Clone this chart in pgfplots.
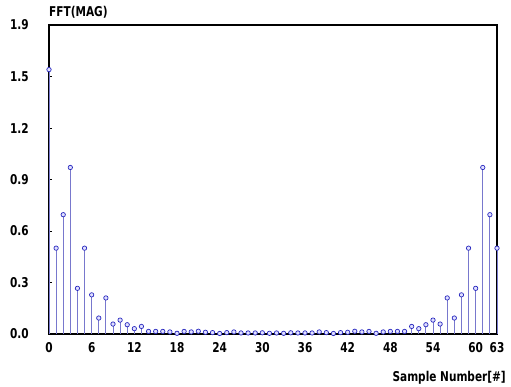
\documentclass[border=0pt]{standalone}
\usepackage{pgfplots}
\pgfplotsset{compat=1.18}
\usepackage{fontspec}
\setmainfont{DejaVu Sans}
\newfontfamily\lblfont[FakeStretch=0.78]{DejaVu Sans Bold}
\newcommand\lbl{\lblfont\fontsize{13.5}{15}\selectfont}
\definecolor{stem}{RGB}{120,120,205}
\definecolor{mk}{RGB}{40,40,190}
\pgfplotstableread{
x y
0 1.54
1 0.50
2 0.695
3 0.97
4 0.266
5 0.50
6 0.228
7 0.093
8 0.21
9 0.058
10 0.081
11 0.054
12 0.031
13 0.044
14 0.015
15 0.015
16 0.015
17 0.012
18 0.004
19 0.015
20 0.012
21 0.016
22 0.010
23 0.008
24 0.003
25 0.008
26 0.012
27 0.006
28 0.006
29 0.006
30 0.007
31 0.004
32 0.006
33 0.004
34 0.007
35 0.006
36 0.006
37 0.006
38 0.012
39 0.008
40 0.003
41 0.008
42 0.010
43 0.016
44 0.012
45 0.015
46 0.004
47 0.012
48 0.015
49 0.015
50 0.015
51 0.044
52 0.031
53 0.054
54 0.081
55 0.058
56 0.21
57 0.093
58 0.228
59 0.50
60 0.266
61 0.97
62 0.695
63 0.50
}\fftdata
\begin{document}
\begin{tikzpicture}
\begin{axis}[
  name=ax,
  scale only axis,
  width=448pt, height=309pt,
  xmin=0, xmax=63, ymin=0, ymax=1.8,
  xtick={0,6,12,18,24,30,36,42,48,54,60,63},
  ytick={0,0.3,0.6,0.9,1.2,1.5,1.8},
  yticklabels={0.0,0.3,0.6,0.9,1.2,1.5,1.9},
  xtick pos=bottom, ytick pos=left,
  tick align=inside,
  major tick length=3pt,
  tick style={black, line width=0.8pt},
  axis line style={black, line width=1.5pt},
  tick label style={font=\lbl, inner sep=0pt},
  /pgf/number format/assume math mode=true,
  xticklabel style={anchor=base, yshift=-19pt},
  yticklabel style={anchor=east, xshift=-20pt},
  clip=false,
]
\addplot[ycomb, color=stem, line width=0.9pt, mark=*, mark size=2.2pt,
  mark options={draw=mk, fill=blue!12, line width=0.7pt}] table[x=x,y=y] {\fftdata};
\end{axis}
\node[anchor=base west, font=\lbl, inner sep=0pt] at ([yshift=8pt]ax.north west) {FFT(MAG)};
\node[anchor=base east, font=\lbl, inner sep=0pt] at ([xshift=9pt,yshift=-48pt]ax.south east) {Sample Number[\#]};
\path ([xshift=-49pt,yshift=-53pt]ax.south west) rectangle ([xshift=14pt,yshift=25pt]ax.north east);
\end{tikzpicture}
\end{document}
